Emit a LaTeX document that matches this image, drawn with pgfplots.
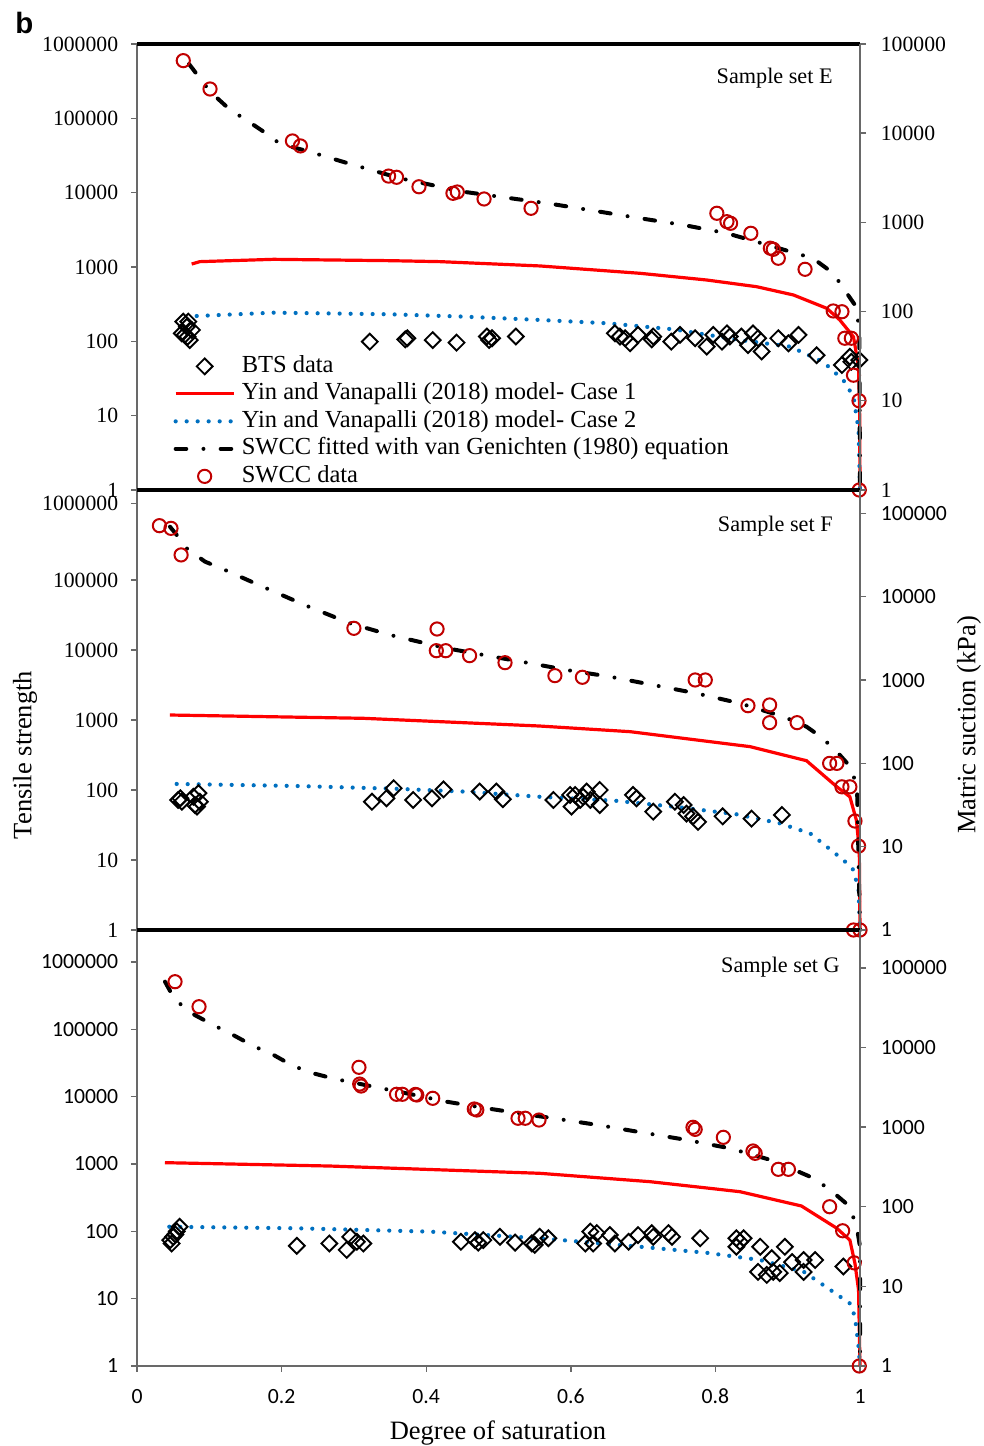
\documentclass[border=0pt]{standalone}
\usepackage{fontspec}
\setmainfont{Liberation Serif}
\newfontfamily\calibri{Carlito}
\newfontfamily\arialfont{Liberation Sans}
\usepackage{pgfplots}
\pgfplotsset{compat=1.18}
\definecolor{swccred}{RGB}{192,0,0}
\definecolor{modelred}{RGB}{255,0,0}
\definecolor{modelblue}{RGB}{0,112,192}
\definecolor{axgray}{RGB}{105,105,105}
\newcommand{\tfs}{\fontsize{10.85pt}{12pt}\selectfont}
\newcommand{\tfsans}{\calibri\fontsize{10.85pt}{12pt}\selectfont}
\newcommand{\lfs}{\fontsize{13.25pt}{15pt}\selectfont}

\pgfplotsset{
  panelbase/.style={
    scale only axis, width=361.5pt, anchor=south west,
    xmin=0, xmax=1, ymin=1, clip=false,
    axis line style={draw=axgray, line width=1.3pt},
    tick style={draw=axgray, line width=0.7pt},
    tick align=outside, major tick length=3pt,
    yminorticks=false, xminorticks=false,
    xtick=\empty,
  },
  panelleft/.style={panelbase, ytick pos=left, yticklabel style={xshift=-2.9pt}},
  panelright/.style={panelbase, hide x axis, axis y line*=right, yticklabel style={xshift=3.9pt}},
  btsmark/.style={only marks, mark=square, mark size=2.8pt,
    mark options={rotate=45, draw=black, line width=0.95pt, fill=none, solid}},
  swccmark/.style={only marks, mark=o, mark size=3.3pt,
    mark options={draw=swccred, line width=1pt, solid}},
  caseone/.style={no marks, draw=modelred, line width=1.6pt},
  casetwo/.style={no marks, draw=modelblue, line width=2.1pt, line cap=round, dash pattern=on 0pt off 5.5pt},
  fitline/.style={no marks, draw=black, line width=2pt, line cap=round, dash pattern=on 5.3pt off 8.6pt on 0pt off 8.6pt},
}

\begin{document}
\begin{tikzpicture}
\useasboundingbox (0pt,0pt) rectangle (492pt,723pt);

% ================= TOP PANEL (E) =================
\begin{axis}[ymode=log, panelleft, at={(68.5pt,478pt)}, height=223pt, ymax=1e6,
  ytick={1,10,100,1000,10000,100000,1000000},
  yticklabels={1,10,100,1000,10000,100000,1000000},
  yticklabel style={font=\tfs},
  legend image code/.code={\draw[mark repeat=2,mark phase=2,#1] plot coordinates {(0pt,0pt) (14.5pt,0pt) (29pt,0pt)};},
  legend style={at={(0.05,0.305)}, anchor=north west, draw=none, fill=none, inner sep=0pt,
    font=\fontsize{12.25pt}{14pt}\selectfont, row sep=1.75pt,
    nodes={inner xsep=3pt, inner ysep=0pt, text height=9pt, text depth=3pt}},
  legend cell align=left]
\addplot[btsmark] coordinates {
(0.064,184) (0.071,184) (0.069,157) (0.076,142) (0.066,122) (0.073,104) (0.062,128) (0.070,115)
(0.322,99) (0.371,106) (0.374,110) (0.409,104) (0.442,96) (0.484,116) (0.491,110) (0.487,104) (0.524,116)
(0.661,128) (0.668,116) (0.675,110) (0.682,94) (0.693,122) (0.714,116) (0.712,106) (0.739,99) (0.751,122)
(0.772,110) (0.788,85) (0.797,122) (0.809,99) (0.816,128) (0.820,116) (0.836,116) (0.845,89) (0.852,128)
(0.859,110) (0.864,73) (0.887,110) (0.901,94) (0.915,122) (0.940,65) (0.975,48) (0.986,62) (0.988,53) (0.999,56)
};
\addlegendentry{BTS data}
\addplot[caseone] coordinates {
(0.0756,1096) (0.087,1180) (0.189,1268) (0.35,1216) (0.419,1180) (0.557,1033) (0.696,822) (0.788,668)
(0.857,543) (0.908,420) (0.954,278) (0.972,194) (0.991,115) (0.998,45.6) (0.9995,11) (1.0,1)
};
\addlegendentry{Yin and Vanapalli (2018) model- Case 1}
\addplot[casetwo] coordinates {
(0.0826,219) (0.189,243) (0.35,231) (0.451,215) (0.557,194) (0.650,175) (0.742,145) (0.834,104)
(0.903,85) (0.949,53) (0.977,30) (0.991,18) (0.998,6.4) (1.0,1)
};
\addlegendentry{Yin and Vanapalli (2018) model- Case 2}
\addplot[fitline] coordinates {
(0.072,537000) (0.101,229000) (0.129,129400) (0.149,98000) (0.175,66200) (0.198,45200) (0.235,36400)
(0.295,24300) (0.364,15600) (0.451,10300) (0.571,7110) (0.631,5730) (0.696,4520) (0.756,3670)
(0.816,2840) (0.880,1880) (0.935,1310) (0.963,822) (0.977,518) (0.993,308) (0.999,157) (1.0,1)
};
\addlegendentry{SWCC fitted with van Genichten (1980) equation}
\addplot[swccmark] coordinates {
(0.064,597000) (0.101,248000) (0.215,49600) (0.226,42500) (0.348,16700) (0.359,16100) (0.390,12000)
(0.437,9800) (0.443,10200) (0.480,8220) (0.545,6160) (0.802,5280) (0.816,4070) (0.821,3870) (0.849,2840)
(0.876,1790) (0.880,1730) (0.887,1310) (0.924,931) (0.963,256) (0.975,250) (0.979,110) (0.988,110)
(0.991,35) (0.9986,15.9) (0.999,1)
};
\addlegendentry{SWCC data}
\draw[black, line width=2pt] (rel axis cs:0,1) -- (rel axis cs:1,1);
\end{axis}
\begin{axis}[ymode=log, panelright, at={(68.5pt,478pt)}, height=223pt, ymax=1e5,
  ytick={1,10,100,1000,10000,100000},
  yticklabels={1,10,100,1000,10000,100000},
  yticklabel style={font=\tfs}]
\end{axis}

% ================= MIDDLE PANEL (F) =================
\begin{axis}[ymode=log, panelleft, at={(68.5pt,258pt)}, height=220pt, ymax=1.931e6,
  ytick={1,10,100,1000,10000,100000,1.25e6},
  yticklabels={1,10,100,1000,10000,100000,1000000},
  yticklabel style={font=\tfs}]
\addplot[btsmark] coordinates {
(0.057,72) (0.062,68) (0.078,80) (0.085,90) (0.080,61) (0.087,68) (0.060,76) (0.083,58)
(0.325,68) (0.345,76) (0.355,106) (0.382,72) (0.408,76) (0.424,102) (0.474,95) (0.497,95) (0.506,74)
(0.576,72) (0.599,85) (0.601,58) (0.606,85) (0.613,72) (0.617,80) (0.622,95) (0.627,72) (0.640,100)
(0.640,61) (0.686,85) (0.691,76) (0.714,49) (0.744,68) (0.756,61) (0.760,46) (0.769,42) (0.776,35)
(0.810,42) (0.850,39) (0.892,44)
};
\addplot[caseone] coordinates {
(0.0456,1178) (0.313,1057) (0.557,820) (0.682,681) (0.848,416) (0.926,262) (0.968,111) (0.986,80)
(0.995,37) (0.999,14) (1.0,1)
};
\addplot[casetwo] coordinates {
(0.0549,122) (0.221,114) (0.359,104) (0.451,95) (0.557,80) (0.663,70) (0.751,56.5) (0.829,45)
(0.889,33.4) (0.931,24) (0.954,15.5) (0.977,10) (0.991,7.2) (0.998,3.7) (1.0,1)
};
\addplot[fitline] coordinates {
(0.0456,577000) (0.0549,440000) (0.0687,283000) (0.094,183000) (0.1217,139000) (0.179,76000)
(0.235,42600) (0.295,24000) (0.350,16400) (0.428,10600) (0.4975,7850) (0.557,6110) (0.594,5180)
(0.654,4160) (0.714,3160) (0.774,2400) (0.834,1730) (0.894,1117) (0.926,802) (0.947,565) (0.970,334)
(0.9885,204) (0.996,100) (1.0,1)
};
\addplot[swccmark] coordinates {
(0.031,597000) (0.047,547000) (0.061,228000) (0.300,20400) (0.415,19950) (0.414,9770) (0.427,9770)
(0.460,8300) (0.509,6590) (0.578,4300) (0.616,4075) (0.772,3730) (0.786,3730) (0.845,1600) (0.875,1640)
(0.875,916) (0.913,916) (0.958,240) (0.968,240) (0.975,111) (0.986,111) (0.993,36) (0.998,15.8)
(0.991,1) (1.0,1)
};
\draw[black, line width=2.3pt] (rel axis cs:0,1) -- (rel axis cs:1,1);
\end{axis}
\begin{axis}[ymode=log, panelright, at={(68.5pt,258pt)}, height=220pt, ymax=1.915e5,
  ytick={1,10,100,1000,10000,100000},
  yticklabels={1,10,100,1000,10000,100000},
  yticklabel style={font=\tfsans}]
\end{axis}

% ================= BOTTOM PANEL (G) =================
\begin{axis}[ymode=log, panelleft, at={(68.5pt,40pt)}, height=218pt, ymax=2.99e6,
  ytick={1,10,100,1000,10000,100000,1000000},
  yticklabels={1,10,100,1000,10000,100000,1000000},
  yticklabel style={font=\tfsans},
  xtick={0,0.2,0.4,0.6,0.8,1}, xticklabels={0,0.2,0.4,0.6,0.8,1}, xtick pos=bottom,
  xticklabel style={font=\tfsans, yshift=-5pt}]
\addplot[btsmark] coordinates {
(0.046,74) (0.050,83) (0.048,66) (0.059,117) (0.053,90) (0.055,100)
(0.221,61) (0.266,66) (0.290,53) (0.295,83) (0.304,70) (0.313,66) (0.448,70) (0.4675,74) (0.472,68)
(0.479,74) (0.502,83) (0.523,68) (0.546,66) (0.550,63) (0.557,83) (0.569,79) (0.627,99) (0.620,66)
(0.631,66) (0.636,94) (0.654,88) (0.661,66) (0.680,70) (0.693,88) (0.712,94) (0.714,83) (0.735,94)
(0.740,83) (0.779,79) (0.829,79) (0.834,70) (0.839,79) (0.829,59) (0.862,59) (0.896,59) (0.878,40)
(0.859,25) (0.871,22.5) (0.880,25) (0.889,24) (0.906,35) (0.922,37.5) (0.922,25) (0.938,37.5) (0.977,30)
};
\addplot[caseone] coordinates {
(0.0387,1047) (0.267,933) (0.557,728) (0.710,546) (0.834,388) (0.919,238) (0.968,111) (0.986,74)
(0.993,33.5) (0.998,13.5) (1.0,1)
};
\addplot[casetwo] coordinates {
(0.0447,117) (0.221,111) (0.405,99) (0.557,79) (0.696,59) (0.788,48) (0.862,37.5) (0.922,25.2)
(0.959,13.5) (0.986,8.5) (0.993,5.4) (0.998,1.94) (1.0,1)
};
\addplot[fitline] coordinates {
(0.0387,511000) (0.0526,273000) (0.080,163000) (0.1055,116000) (0.133,82400) (0.161,56600)
(0.189,41600) (0.216,28600) (0.244,22200) (0.274,18300) (0.304,15800) (0.334,13600) (0.368,11500)
(0.428,8430) (0.484,6710) (0.544,5350) (0.576,4780) (0.638,3790) (0.700,2920) (0.760,2280)
(0.820,1710) (0.880,1120) (0.936,614) (0.959,411) (0.985,238) (0.9955,117) (1.0,59) (1.0,1)
};
\addplot[swccmark] coordinates {
(0.0526,510000) (0.0858,217000) (0.307,27300) (0.308,15400) (0.310,14400) (0.359,10850) (0.367,10850)
(0.385,10800) (0.387,10600) (0.409,9460) (0.4665,6560) (0.470,6340) (0.527,4780) (0.537,4780)
(0.556,4500) (0.769,3510) (0.772,3270) (0.811,2490) (0.852,1560) (0.855,1440) (0.887,834) (0.901,834)
(0.958,232) (0.976,102) (0.992,34) (0.999,1)
};
\draw[black, line width=2.3pt] (rel axis cs:0,1) -- (rel axis cs:1,1);
\end{axis}
\begin{axis}[ymode=log, panelright, at={(68.5pt,40pt)}, height=218pt, ymax=3.0e5,
  ytick={1,10,100,1000,10000,100000},
  yticklabels={1,10,100,1000,10000,100000},
  yticklabel style={font=\tfsans}]
\end{axis}

% ================= TEXT =================
\node[anchor=base west, inner sep=0pt, font=\arialfont\bfseries\fontsize{14.7pt}{16pt}\selectfont] at (7.5pt,706pt) {b};
\node[anchor=east, inner sep=0pt, font=\fontsize{11.1pt}{13pt}\selectfont] at (416.5pt,684pt) {Sample set E};
\node[anchor=east, inner sep=0pt, font=\fontsize{11.1pt}{13pt}\selectfont] at (416.5pt,460pt) {Sample set F};
\node[anchor=east, inner sep=0pt, font=\fontsize{11.1pt}{13pt}\selectfont] at (420pt,239.5pt) {Sample set G};
\node[rotate=90, font=\lfs] at (12.5pt,345.5pt) {Tensile strength};
\node[rotate=90, font=\lfs] at (484.5pt,360.5pt) {Matric suction (kPa)};
\node[anchor=base, font=\lfs] at (249pt,3pt) {Degree of saturation};
\end{tikzpicture}
\end{document}
